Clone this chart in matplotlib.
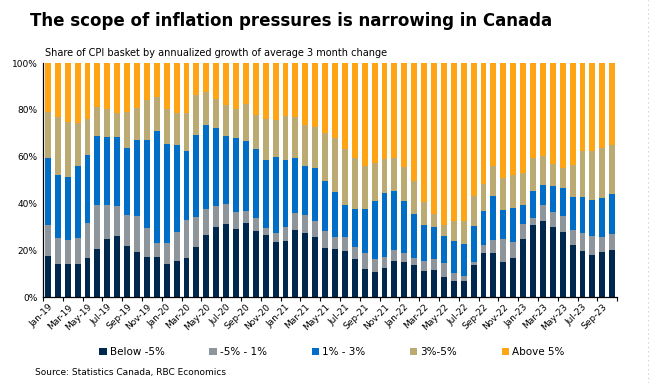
import numpy as np
import pandas as pd
import matplotlib
matplotlib.use("Agg")
import matplotlib.pyplot as plt
from matplotlib.ticker import FuncFormatter

# months Jan-19 .. Oct-23
months = pd.date_range("2019-01-01", "2023-10-01", freq="MS")
labels = [d.strftime("%b-%y") for d in months]

# shares of CPI basket (%) per growth bucket
below_m5 = [17.6, 14.2, 14.2, 14.2, 16.8, 20.6, 24.9, 26.2, 21.9, 19.3,
            17.2, 17.2, 14.2, 15.5, 16.8, 21.5, 26.6, 30.0, 31.3, 29.2,
            31.7, 28.3, 26.6, 23.6, 24.0, 28.7, 27.5, 25.7, 21.1, 20.6,
            19.8, 16.4, 12.1, 10.8, 12.5, 15.5, 15.1, 13.8, 11.2, 11.7,
            8.7, 7.0, 7.0, 13.8, 18.9, 18.9, 15.1, 16.8, 24.9, 30.9,
            32.6, 30.0, 27.9, 22.3, 19.8, 18.1, 19.3, 20.2]
m5_1 = [13.3, 11.1, 10.3, 11.1, 14.9, 18.8, 14.5, 12.8, 13.2, 15.4,
        12.4, 6.0, 9.0, 12.4, 16.2, 12.8, 11.1, 9.0, 8.5, 7.2,
        5.1, 5.6, 3.0, 3.9, 6.0, 7.3, 7.6, 6.9, 7.2, 5.1,
        5.9, 5.1, 6.8, 5.6, 4.7, 4.7, 3.8, 3.0, 4.3, 4.7,
        6.0, 3.4, 2.1, 1.3, 3.4, 5.6, 9.8, 6.8, 6.4, 3.0,
        6.8, 6.4, 6.8, 6.4, 7.7, 8.1, 6.4, 6.8]
p1_3 = [28.7, 26.9, 26.6, 30.7, 29.0, 29.4, 29.0, 29.4, 28.6, 32.4,
        37.5, 47.8, 42.2, 37.1, 29.4, 35.0, 35.8, 33.3, 29.0, 31.6,
        29.9, 29.4, 29.0, 32.4, 28.6, 23.5, 20.9, 22.6, 21.3, 19.3,
        13.7, 16.2, 18.8, 24.7, 27.3, 25.2, 22.2, 18.8, 15.4, 13.6,
        11.5, 13.6, 13.7, 15.3, 14.5, 18.7, 12.4, 14.5, 8.1, 11.5,
        8.5, 11.1, 12.0, 14.1, 15.3, 15.3, 16.7, 17.1]
p3_5 = [19.6, 24.8, 23.9, 18.4, 15.4, 12.4, 12.0, 10.3, 15.5, 13.7,
        17.1, 14.3, 15.0, 13.7, 16.3, 17.0, 14.1, 12.3, 13.3, 12.4,
        15.9, 14.5, 17.5, 15.9, 18.9, 17.4, 17.5, 17.5, 20.5, 23.0,
        23.9, 21.8, 18.3, 16.2, 14.5, 14.1, 14.5, 14.0, 9.5, 5.6,
        4.7, 8.6, 9.8, 12.8, 11.6, 12.8, 13.6, 14.1, 13.7, 14.2,
        12.4, 9.4, 8.6, 13.7, 19.6, 20.9, 21.4, 20.8]
above_5 = [100 - a - b - c - d for a, b, c, d in zip(below_m5, m5_1, p1_3, p3_5)]

series = [("Below -5%", below_m5, "#00284f"),
          ("-5% - 1%", m5_1, "#8e959b"),
          ("1% - 3%", p1_3, "#006dc6"),
          ("3%-5%", p3_5, "#bbaa72"),
          ("Above 5%", above_5, "#ffa414")]

fig = plt.figure(figsize=(6.51, 3.83), dpi=100)
ax = fig.add_axes([0.066, 0.2245, 0.882, 0.611])

x = np.arange(len(labels))
bottom = np.zeros(len(labels))
for name, vals, col in series:
    ax.bar(x, vals, width=0.6, bottom=bottom, color=col, label=name, linewidth=0)
    bottom += np.array(vals)

ax.set_xlim(-0.5, len(labels) - 0.5)
ax.set_ylim(0, 100)
ax.set_yticks(range(0, 101, 20))
ax.yaxis.set_major_formatter(FuncFormatter(lambda v, p: "%d%%" % v))
ax.tick_params(axis="y", length=0, labelsize=6.5, pad=4)

# category ticks every 2 months between bars, labels on every 2nd bar
ax.set_xticks(np.arange(-0.5, len(labels), 2))
ax.set_xticklabels([])
ax.set_xticks(x[::2], minor=True)
ax.set_xticklabels(labels[::2], minor=True, rotation=45, ha="right",
                   rotation_mode="anchor", fontsize=6.5)
ax.tick_params(axis="x", which="major", length=3, direction="out", width=0.8)
ax.tick_params(axis="x", which="minor", length=0, pad=4)

for s in ["top", "right"]:
    ax.spines[s].set_visible(False)
ax.spines["left"].set_linewidth(0.9)
ax.spines["bottom"].set_linewidth(0.9)

fig.text(0.046, 0.945, "The scope of inflation pressures is narrowing in Canada",
         fontsize=12, fontweight="bold", va="center")
fig.text(0.069, 0.862, "Share of CPI basket by annualized growth of average 3 month change",
         fontsize=7, va="center")

leg = fig.legend(loc="center", bbox_to_anchor=(0.51, 0.081), ncol=5, frameon=False,
                 fontsize=7.5, handlelength=0.7, handleheight=0.7, handletextpad=0.3,
                 columnspacing=4.3)

fig.text(0.054, 0.028, "Source: Statistics Canada, RBC Economics", fontsize=6.5, va="center")

# faint dotted border on the right edge
fig.add_artist(plt.Line2D([0.995, 0.995], [0.0, 1.0], transform=fig.transFigure,
                          color="#c8c8c8", linestyle=(0, (1, 3)), linewidth=0.8))

fig.savefig("out.png", dpi=100)
